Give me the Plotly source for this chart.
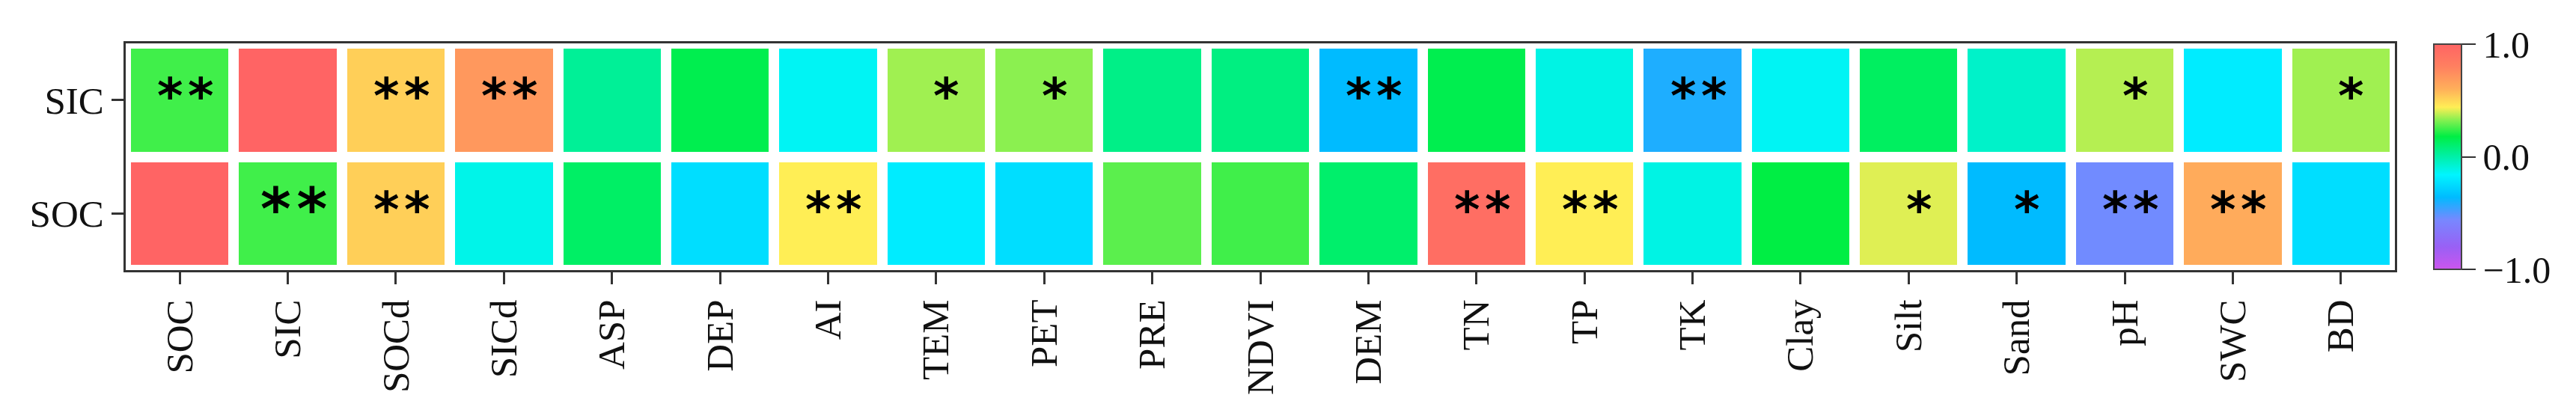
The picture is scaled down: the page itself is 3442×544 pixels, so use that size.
import plotly.graph_objects as go

variables = ["SOC", "SIC", "SOCd", "SICd", "ASP", "DEP", "AI", "TEM", "PET", "PRE",
             "NDVI", "DEM", "TN", "TP", "TK", "Clay", "Silt", "Sand", "pH", "SWC", "BD"]
rows = ["SOC", "SIC"]

sic_values = [0.25, 1.00, 0.52, 0.70, 0.03, 0.16, -0.14, 0.35, 0.33, 0.06,
              0.07, -0.36, 0.16, -0.11, -0.41, -0.14, 0.13, -0.06, 0.37, -0.19, 0.35]
soc_values = [1.00, 0.25, 0.52, -0.12, 0.12, -0.24, 0.44, -0.19, -0.24, 0.28,
              0.25, 0.11, 0.93, 0.44, -0.11, 0.18, 0.41, -0.36, -0.55, 0.62, -0.24]

sic_sig = ["**", "", "**", "**", "", "", "", "*", "*", "", "", "**", "", "", "**",
           "", "", "", "*", "", "*"]
soc_sig = ["", "**", "**", "", "", "", "**", "", "", "", "", "", "**", "**", "",
           "", "*", "*", "**", "**", ""]

colorscale = [
    [0.00, "#CC55EE"],
    [0.10, "#9960F5"],
    [0.22, "#7788FF"],
    [0.32, "#00BBFF"],
    [0.42, "#00F5FF"],
    [0.50, "#00F0A8"],
    [0.59, "#00EE44"],
    [0.66, "#80F050"],
    [0.72, "#FFEE55"],
    [0.80, "#FFB05A"],
    [0.90, "#FF8060"],
    [1.00, "#FF6464"],
]

fig = go.Figure()
fig.add_trace(go.Heatmap(
    z=[soc_values, sic_values],
    x=variables,
    y=rows,
    zmin=-1, zmax=1,
    colorscale=colorscale,
    xgap=14, ygap=14,
    colorbar=dict(
        x=1.0172, xanchor="left", xpad=0,
        y=0.5, yanchor="middle", ypad=0,
        len=301, lenmode="pixels",
        thickness=37, thicknessmode="pixels",
        outlinewidth=2, outlinecolor="#444",
        tickvals=[-1, 0, 1], tickformat=".1f",
        ticks="outside", ticklen=18, tickwidth=2, tickcolor="#333",
        tickfont=dict(family="Liberation Serif", size=50, color="#111"),
    ),
    hoverinfo="skip",
))

annotations = []
for row_name, sigs in (("SOC", soc_sig), ("SIC", sic_sig)):
    for var, s in zip(variables, sigs):
        if not s:
            continue
        big = (row_name == "SOC" and var == "SIC")
        annotations.append(dict(
            x=var, y=row_name, xref="x", yref="y",
            text="\u200a".join(s), showarrow=False,
            xshift=8 if len(s) == 2 else 14, yshift=5,
            font=dict(family="DejaVu Sans", size=78 if big else 66, color="#000",
                      weight="bold"),
        ))

fig.update_layout(
    width=3442, height=544,
    margin=dict(l=160, r=250, t=50, b=191),
    paper_bgcolor="white", plot_bgcolor="white",
    annotations=annotations,
    xaxis=dict(
        range=[-0.5, len(variables) - 0.5],
        showline=True, linecolor="#333", linewidth=3, mirror=True,
        ticks="outside", ticklen=16, tickwidth=3, tickcolor="#333",
        tickangle=-90,
        tickfont=dict(family="Liberation Serif", size=51, color="#111"),
        showgrid=False, zeroline=False,
    ),
    yaxis=dict(
        range=[-0.5, 1.5],
        showline=True, linecolor="#333", linewidth=3, mirror=True,
        ticks="outside", ticklen=16, tickwidth=3, tickcolor="#333",
        tickfont=dict(family="Liberation Serif", size=51, color="#111"),
        showgrid=False, zeroline=False,
    ),
)

fig.write_html("out.html")
